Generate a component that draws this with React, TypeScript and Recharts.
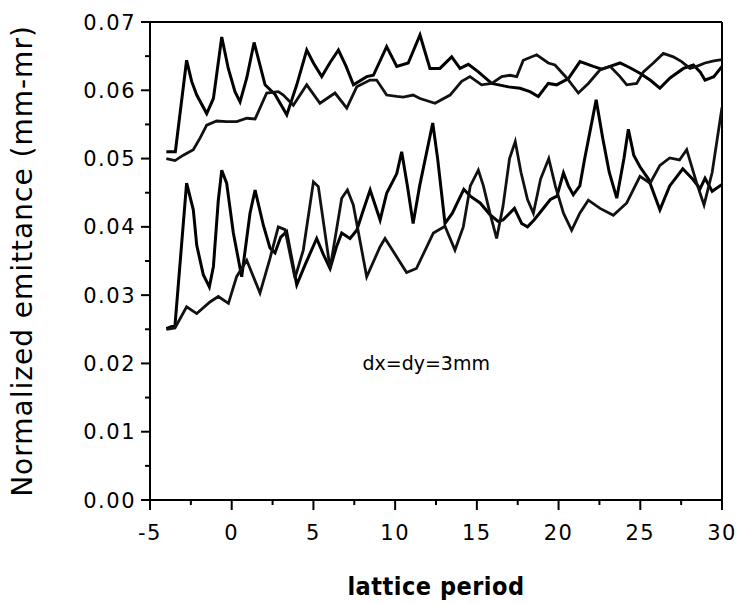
import React from 'react';
import { LineChart, Line, XAxis, YAxis, ReferenceLine, ReferenceDot } from 'recharts';

// Upper pair of curves (lattice period, normalized emittance)
const upperA: [number, number][] = [
  [-4.0, 0.0510], [-3.45, 0.0510], [-2.76, 0.0644], [-2.45, 0.0613], [-2.14, 0.0593],
  [-1.53, 0.0566], [-1.12, 0.0588], [-0.61, 0.0678], [-0.21, 0.0632], [0.2, 0.0598],
  [0.51, 0.0583], [0.92, 0.0618], [1.37, 0.0670], [1.73, 0.0637], [2.04, 0.0608],
  [2.65, 0.0594], [3.37, 0.0564], [3.98, 0.0608], [4.59, 0.0659], [5.0, 0.0640],
  [5.51, 0.0620], [6.0, 0.0640], [6.53, 0.0659], [7.0, 0.0635], [7.45, 0.0608],
  [8.26, 0.0620], [8.67, 0.0622], [9.48, 0.0664], [10.1, 0.0635], [10.8, 0.0640],
  [11.52, 0.0681], [12.13, 0.0632], [12.74, 0.0632], [13.46, 0.0649], [13.97, 0.0632],
  [14.48, 0.0638], [15.09, 0.0627], [15.91, 0.0610], [16.93, 0.0605], [17.64, 0.0603],
  [18.25, 0.0598], [18.76, 0.0591], [19.37, 0.0610], [19.88, 0.0608], [20.6, 0.0617],
  [21.31, 0.0642], [22.13, 0.0635], [22.64, 0.0631], [23.15, 0.0635], [23.76, 0.0640],
  [24.37, 0.0633], [24.98, 0.0625], [25.6, 0.0615], [26.2, 0.0603], [26.82, 0.0618],
  [27.64, 0.0632], [28.25, 0.0637], [28.66, 0.0627], [28.96, 0.0615], [29.5, 0.0620],
  [30.0, 0.0635],
];

const upperB: [number, number][] = [
  [-4.0, 0.0500], [-3.47, 0.0497], [-2.96, 0.0505], [-2.35, 0.0513], [-1.94, 0.0530],
  [-1.53, 0.0549], [-0.92, 0.0555], [-0.31, 0.0554], [0.31, 0.0554], [0.92, 0.0559],
  [1.43, 0.0558], [2.14, 0.0596], [2.85, 0.0598], [3.16, 0.0593], [3.77, 0.0578],
  [4.59, 0.0608], [5.4, 0.0581], [6.32, 0.0596], [7.04, 0.0574], [7.65, 0.0605],
  [8.46, 0.0615], [8.87, 0.0615], [9.48, 0.0593], [10.1, 0.0591], [10.5, 0.0590],
  [11.1, 0.0593], [11.52, 0.0588], [12.44, 0.0581], [13.36, 0.0593], [14.07, 0.0613],
  [14.58, 0.0620], [15.29, 0.0608], [15.91, 0.0610], [16.52, 0.0620], [17.03, 0.0622],
  [17.44, 0.0620], [17.84, 0.0644], [18.66, 0.0652], [19.37, 0.0640], [19.78, 0.0637],
  [20.5, 0.0618], [21.21, 0.0596], [21.82, 0.0610], [22.54, 0.0630], [23.15, 0.0635],
  [23.76, 0.0620], [24.17, 0.0608], [24.78, 0.0610], [25.19, 0.0627], [25.8, 0.0640],
  [26.41, 0.0654], [27.02, 0.0649], [27.53, 0.0642], [28.04, 0.0632], [28.45, 0.0635],
  [28.96, 0.0640], [29.5, 0.0643], [30.0, 0.0645],
];

// Lower pair of curves
const lowerC: [number, number][] = [
  [-4.0, 0.0251], [-3.47, 0.0256], [-2.76, 0.0464], [-2.35, 0.0425], [-2.14, 0.0373],
  [-1.74, 0.0330], [-1.37, 0.0312], [-1.12, 0.0342], [-0.82, 0.0439], [-0.61, 0.0483],
  [-0.31, 0.0464], [0.1, 0.0391], [0.61, 0.0327], [1.12, 0.0420], [1.43, 0.0454],
  [1.94, 0.0402], [2.34, 0.0369], [2.65, 0.0362], [3.0, 0.0385], [3.36, 0.0393],
  [3.98, 0.0315], [4.5, 0.0345], [5.2, 0.0383], [5.6, 0.0360], [6.02, 0.0339],
  [6.4, 0.0370], [6.73, 0.0391], [7.24, 0.0383], [7.65, 0.0395], [8.06, 0.0425],
  [8.47, 0.0454], [9.08, 0.0410], [9.48, 0.0449], [10.1, 0.0478], [10.4, 0.0510],
  [10.75, 0.0460], [11.1, 0.0405], [11.5, 0.0460], [12.3, 0.0552], [12.6, 0.0500],
  [13.05, 0.0405], [13.5, 0.0420], [14.2, 0.0455], [14.6, 0.0445], [15.2, 0.0435],
  [15.8, 0.0418], [16.3, 0.0408], [16.6, 0.0410], [17.3, 0.0427], [17.74, 0.0405],
  [18.1, 0.0400], [18.5, 0.0410], [19.0, 0.0425], [19.5, 0.0440], [19.9, 0.0445],
  [20.3, 0.0479], [20.6, 0.0460], [20.9, 0.0447], [21.3, 0.0460], [21.6, 0.0500],
  [22.3, 0.0586], [22.7, 0.0530], [23.1, 0.0480], [23.56, 0.0442], [24.0, 0.0500],
  [24.27, 0.0543], [24.6, 0.0505], [24.98, 0.0488], [25.5, 0.0470], [26.2, 0.0425],
  [26.8, 0.0460], [27.6, 0.0485], [28.2, 0.0470], [28.66, 0.0456], [28.96, 0.0471],
  [29.4, 0.0452], [30.0, 0.0462],
];

const lowerD: [number, number][] = [
  [-4.0, 0.0250], [-3.47, 0.0252], [-2.76, 0.0283], [-2.14, 0.0273], [-1.33, 0.0290],
  [-0.82, 0.0298], [-0.2, 0.0288], [0.3, 0.0327], [0.92, 0.0351], [1.73, 0.0303],
  [2.3, 0.0350], [2.85, 0.0400], [3.26, 0.0396], [3.87, 0.0325], [4.38, 0.0366],
  [5.0, 0.0466], [5.3, 0.0459], [6.02, 0.0339], [6.73, 0.0442], [7.08, 0.0454],
  [7.44, 0.0432], [8.26, 0.0327], [9.08, 0.0371], [9.38, 0.0383], [10.1, 0.0356],
  [10.7, 0.0333], [11.3, 0.0339], [12.34, 0.0391], [13.05, 0.0401], [13.66, 0.0366],
  [14.17, 0.0400], [14.6, 0.0460], [15.09, 0.0483], [15.4, 0.0460], [15.8, 0.0420],
  [16.21, 0.0383], [16.6, 0.0430], [17.0, 0.0500], [17.35, 0.0525], [17.7, 0.0480],
  [18.1, 0.0440], [18.46, 0.0420], [18.9, 0.0470], [19.4, 0.0500], [19.8, 0.0460],
  [20.3, 0.0420], [20.8, 0.0395], [21.3, 0.0420], [21.82, 0.0439], [22.54, 0.0427],
  [23.35, 0.0417], [24.17, 0.0435], [24.98, 0.0474], [25.6, 0.0464], [26.2, 0.0490],
  [26.8, 0.0501], [27.4, 0.0498], [27.84, 0.0513], [28.45, 0.0464], [28.9, 0.0432],
  [29.4, 0.0480], [30.0, 0.0575],
];

const xTicks = [-5, -2.5, 0, 2.5, 5, 7.5, 10, 12.5, 15, 17.5, 20, 22.5, 25, 27.5, 30];
const yTicks = [0, 0.005, 0.01, 0.015, 0.02, 0.025, 0.03, 0.035, 0.04, 0.045, 0.05, 0.055, 0.06, 0.065, 0.07];
const xTitle = 'lattice period';
const yTitle = 'Normalized emittance (mm-mr)';
const note = 'dx=dy=3mm';
const notePos = { x: 11.9, y: 0.0200 };

const toRows = (pts: [number, number][]) => pts.map(([x, v]) => ({ x, v }));

const W = 743;
const H = 605;
const FONT = "'DejaVu Sans', 'Liberation Sans', sans-serif";
const TITLE_FONT = "'DejaVu Sans Condensed', 'DejaVu Sans', sans-serif";

const isMultiple = (v: number, step: number) => Math.abs(v / step - Math.round(v / step)) < 1e-6;

function XTick(props: any) {
  const { x, y, payload } = props;
  const val = payload.value as number;
  const major = isMultiple(val, 5);
  return (
    <g>
      <line x1={x} x2={x} y1={y} y2={y + (major ? 10 : 5)} stroke="#000" strokeWidth={2} />
      {major && (
        <text x={x} y={y + 40} textAnchor="middle" fontSize={21} fontFamily={FONT} letterSpacing={1.5} fill="#000">
          {String(val)}
        </text>
      )}
    </g>
  );
}

function YTick(props: any) {
  const { x, y, payload } = props;
  const val = payload.value as number;
  const major = isMultiple(val, 0.01);
  return (
    <g>
      <line x1={x - (major ? 9 : 5)} x2={x} y1={y} y2={y} stroke="#000" strokeWidth={2} />
      {major && (
        <text x={x - 14} y={y} dy="0.36em" textAnchor="end" fontSize={21} fontFamily={FONT} letterSpacing={1.5} fill="#000">
          {val.toFixed(2)}
        </text>
      )}
    </g>
  );
}

export default function App() {
  return (
    <div style={{ position: 'absolute', left: 0, top: 0, width: W, height: H, background: '#fff' }}>
      <LineChart width={W} height={H} margin={{ top: 22, right: 21, bottom: 75, left: 90 }}>
        <XAxis
          type="number"
          dataKey="x"
          domain={[-5, 30]}
          ticks={xTicks}
          interval={0}
          tickSize={0}
          tickMargin={0}
          tickLine={false}
          tick={<XTick />}
          height={30}
          axisLine={{ stroke: '#000', strokeWidth: 2 }}
          allowDataOverflow
        />
        <YAxis
          type="number"
          domain={[0, 0.07]}
          ticks={yTicks}
          interval={0}
          tickSize={0}
          tickMargin={0}
          tickLine={false}
          tick={<YTick />}
          width={60}
          axisLine={{ stroke: '#000', strokeWidth: 2 }}
          allowDataOverflow
        />
        <ReferenceLine y={0.07} stroke="#000" strokeWidth={2} ifOverflow="visible" />
        <ReferenceLine x={30} stroke="#000" strokeWidth={2} ifOverflow="visible" />
        <Line data={toRows(upperA)} dataKey="v" type="linear" stroke="#000" strokeWidth={3} dot={false} isAnimationActive={false} />
        <Line data={toRows(upperB)} dataKey="v" type="linear" stroke="#111" strokeWidth={2.8} dot={false} isAnimationActive={false} />
        <Line data={toRows(lowerC)} dataKey="v" type="linear" stroke="#000" strokeWidth={3} dot={false} isAnimationActive={false} />
        <Line data={toRows(lowerD)} dataKey="v" type="linear" stroke="#111" strokeWidth={2.8} dot={false} isAnimationActive={false} />
        <ReferenceDot
          x={notePos.x}
          y={notePos.y}
          r={0}
          fill="none"
          stroke="none"
          ifOverflow="visible"
          label={{ value: note, position: 'center', fontSize: 19, fill: '#000', fontFamily: FONT }}
        />
      </LineChart>
      <div
        style={{
          position: 'absolute',
          left: 23,
          top: 261,
          transform: 'translate(-50%, -50%) rotate(-90deg)',
          whiteSpace: 'nowrap',
          fontFamily: FONT,
          fontSize: 28,
          letterSpacing: 1,
          color: '#000',
          lineHeight: 1,
        }}
      >
        {yTitle}
      </div>
      <div
        style={{
          position: 'absolute',
          left: 436,
          top: 586,
          transform: 'translate(-50%, -50%)',
          whiteSpace: 'nowrap',
          fontFamily: TITLE_FONT,
          fontWeight: 'bold',
          fontSize: 25,
          letterSpacing: 0.5,
          color: '#000',
          lineHeight: 1,
        }}
      >
        {xTitle}
      </div>
    </div>
  );
}
